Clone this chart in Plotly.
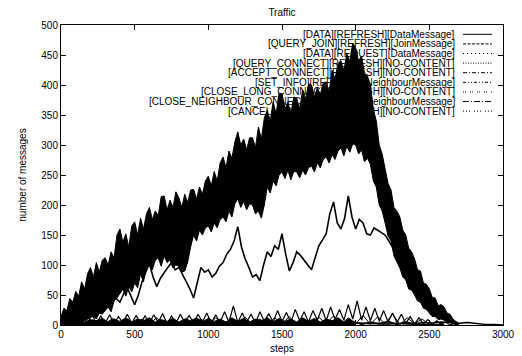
import plotly.graph_objects as go

# ---------------- data ----------------
series_names = [
    "[DATA][REFRESH][DataMessage]",
    "[QUERY_JOIN][REFRESH][JoinMessage]",
    "[DATA][REQUEST][DataMessage]",
    "[QUERY_CONNECT][REFRESH][NO-CONTENT]",
    "[ACCEPT_CONNECT][REFRESH][NO-CONTENT]",
    "[SET_INFO][REFRESH][NeighbourMessage]",
    "[CLOSE_LONG_CONNECT][REFRESH][NO-CONTENT]",
    "[CLOSE_NEIGHBOUR_CONNECT][REFRESH][NeighbourMessage]",
    "[CANCEL_CONNECT][REFRESH][NO-CONTENT]",
]

# DATA REFRESH oscillates so fast that it reads as a band:
# lower / upper edge of the band, every 20 steps (0..2700)
data_refresh_steps = list(range(0, 2701, 20))
data_refresh_low = [
    0, 1, 2, 3, 4, 5, 6, 4, 8, 10,
    12, 15, 10, 20, 18, 25, 30, 22, 40, 45,
    52, 60, 48, 64, 55, 70, 62, 85, 72, 96,
    100, 92, 108, 112, 98, 115, 104, 108, 95, 100,
    98, 88, 90, 105, 130, 150, 140, 158, 150, 162,
    165, 155, 170, 162, 176, 180, 172, 190, 180, 202,
    210, 196, 206, 192, 202, 200, 185, 190, 178, 200,
    230, 220, 240, 232, 250, 255, 244, 258, 242, 256,
    255, 245, 258, 250, 262, 265, 255, 270, 262, 276,
    280, 270, 284, 276, 290, 295, 282, 298, 288, 302,
    300, 285, 292, 272, 278, 268, 240, 230, 200, 190,
    170, 148, 140, 115, 105, 95, 80, 75, 60, 58,
    50, 40, 38, 28, 26, 20, 14, 14, 9, 10,
    8, 5, 4, 2, 1, 0,
]
data_refresh_high = [
    14, 28, 24, 44, 38, 56, 48, 72, 60, 85,
    96, 80, 104, 88, 108, 112, 100, 122, 112, 150,
    160, 138, 152, 130, 165, 172, 150, 178, 160, 185,
    196, 176, 190, 182, 214, 215, 192, 208, 196, 222,
    212, 196, 218, 204, 225, 226, 210, 230, 218, 240,
    248, 232, 256, 240, 270, 280, 262, 290, 278, 305,
    322, 300, 310, 292, 312, 312, 296, 330, 310, 345,
    358, 340, 372, 352, 386, 386, 360, 372, 352, 380,
    378, 360, 392, 376, 402, 400, 380, 396, 384, 404,
    405, 388, 425, 410, 436, 440, 424, 452, 440, 470,
    462, 440, 448, 420, 415, 400, 360, 340, 300, 285,
    260, 236, 225, 196, 190, 180, 158, 150, 128, 122,
    110, 92, 90, 70, 68, 60, 46, 45, 32, 34,
    30, 20, 18, 10, 6, 3,
]

# steps 0..2700 every 25
query_join_steps = list(range(0, 2701, 25))
query_join = [
    2, 0, 6, 3, 12, 8, 16, 10, 22, 15,
    28, 20, 46, 38, 56, 44, 38, 52, 62, 48,
    34, 50, 72, 88, 102, 80, 64, 78, 88, 96,
    104, 92, 96, 84, 72, 60, 45, 70, 96, 88,
    92, 80, 86, 98, 104, 118, 126, 140, 164, 130,
    110, 96, 80, 84, 74, 100, 122, 114, 132, 126,
    152, 118, 90, 104, 122, 116, 108, 100, 92, 112,
    132, 142, 152, 186, 205, 170, 160, 178, 215, 180,
    160, 176, 170, 152, 150, 162, 158, 154, 150, 140,
    130, 115, 100, 90, 80, 70, 60, 52, 45, 38,
    30, 24, 18, 14, 10, 7, 4, 2, 0,
]

# steps 0..2700 every 30
data_request_steps = list(range(0, 2701, 30))
data_request = [
    0, 12, 2, 16, 1, 14, 3, 18, 2, 15,
    3, 17, 2, 14, 4, 18, 3, 16, 2, 15,
    3, 17, 4, 19, 2, 15, 3, 18, 4, 16,
    3, 18, 5, 20, 3, 17, 4, 22, 5, 32,
    4, 20, 5, 18, 3, 22, 6, 19, 5, 24,
    6, 21, 4, 26, 7, 22, 5, 24, 8, 28,
    7, 30, 9, 26, 8, 34, 10, 40, 8, 30,
    7, 28, 6, 24, 5, 20, 4, 18, 3, 14,
    2, 12, 2, 9, 1, 7, 1, 5, 0, 3,
    0,
]

# steps 0..2000 every 40
query_connect_steps = list(range(0, 2001, 40))
query_connect = [
    5, 10, 6, 12, 5, 9, 7, 11, 5, 10,
    6, 12, 5, 10, 7, 12, 5, 9, 6, 11,
    5, 10, 7, 12, 5, 11, 6, 10, 5, 12,
    6, 11, 5, 10, 7, 12, 5, 11, 6, 10,
    5, 12, 6, 11, 5, 10, 7, 12, 5, 11,
    0,
]

# steps 0..2600 every 50
accept_connect_steps = list(range(0, 2601, 50))
accept_connect = [
    0, 8, 1, 10, 0, 9, 2, 11, 1, 8,
    0, 10, 2, 12, 1, 9, 0, 11, 2, 10,
    1, 12, 0, 9, 2, 13, 1, 10, 0, 12,
    2, 14, 1, 11, 0, 13, 2, 15, 1, 12,
    2, 16, 1, 14, 2, 18, 1, 12, 2, 10,
    1, 6, 0,
]

# steps 0..3000 every 60
set_info_steps = list(range(0, 3001, 60))
set_info = [
    0, 3, 1, 4, 0, 3, 1, 4, 0, 3,
    1, 4, 0, 3, 1, 4, 0, 3, 1, 5,
    0, 4, 1, 3, 0, 4, 1, 5, 0, 4,
    1, 5, 2, 6, 1, 5, 2, 6, 1, 5,
    2, 4, 3, 5, 4, 3, 4, 2, 1, 1,
    0,
]

# steps 0..2600 every 100
small_steps = list(range(0, 2601, 100))
close_long = [0, 2, 1, 3, 0, 2, 1, 3, 2, 1, 3, 2, 1, 3, 2, 4, 1, 3, 2, 4, 3, 2, 4, 2, 1, 1, 0]
close_neighbour = [1, 0, 2, 1, 3, 1, 2, 0, 3, 1, 2, 1, 3, 2, 1, 3, 2, 4, 2, 3, 4, 3, 2, 3, 1, 0, 0]
cancel_connect = [0, 1, 0, 2, 1, 0, 2, 1, 0, 1, 2, 1, 0, 2, 1, 3, 1, 2, 3, 2, 3, 2, 1, 2, 1, 0, 0]

x_ticks = [0, 500, 1000, 1500, 2000, 2500, 3000]
y_ticks = [0, 50, 100, 150, 200, 250, 300, 350, 400, 450, 500]

# ---------------- styles ----------------
legend_dashes = [
    "solid",
    "3px,1.5px",
    "1px,3px",
    "1px,1.5px",
    "4px,2px,1px,2px",
    "3px,2px,1px,2px,1px,2px",
    "1px,1px,1px,4px",
    "6px,2px,1px,2px",
    "1px,2px,1px,2px,1px,4px",
]

FONT = "Liberation Sans, Arial, sans-serif"

fig = go.Figure()

# DATA REFRESH band (lower edge, then upper edge filled down to it)
fig.add_trace(go.Scatter(x=data_refresh_steps, y=data_refresh_low, mode="lines",
                         name=series_names[0] + " low", showlegend=False,
                         line=dict(color="black", width=1)))
fig.add_trace(go.Scatter(x=data_refresh_steps, y=data_refresh_high, mode="lines",
                         name=series_names[0], showlegend=False, fill="tonexty",
                         fillcolor="black", line=dict(color="black", width=1)))

fig.add_trace(go.Scatter(x=query_join_steps, y=query_join, mode="lines",
                         name=series_names[1], showlegend=False,
                         line=dict(color="black", width=1.6)))
fig.add_trace(go.Scatter(x=data_request_steps, y=data_request, mode="lines",
                         name=series_names[2], showlegend=False,
                         line=dict(color="black", width=1.2)))
fig.add_trace(go.Scatter(x=query_connect_steps, y=query_connect, mode="lines",
                         name=series_names[3], showlegend=False, fill="tozeroy",
                         fillcolor="black", line=dict(color="black", width=1)))
fig.add_trace(go.Scatter(x=accept_connect_steps, y=accept_connect, mode="lines",
                         name=series_names[4], showlegend=False,
                         line=dict(color="black", width=1)))
fig.add_trace(go.Scatter(x=set_info_steps, y=set_info, mode="lines",
                         name=series_names[5], showlegend=False,
                         line=dict(color="black", width=1.5)))
for nm, yv in zip(series_names[6:], [close_long, close_neighbour, cancel_connect]):
    fig.add_trace(go.Scatter(x=small_steps, y=yv, mode="lines", name=nm,
                             showlegend=False, line=dict(color="black", width=1)))

# page has an 8px body margin; target plot area in the window: x 61..503, y 25..325
OFF = 8
W, H = 522 - OFF, 356 - OFF
L, R, T, B = 61 - OFF, 19, 25 - OFF, 31
pw, ph = W - L - R, H - T - B

def py(ypix):  # window pixel -> paper
    return (H - B - (ypix - OFF)) / ph

def px(xpix):
    return (xpix - OFF - L) / pw

# gnuplot-style legend: right-aligned text, line sample on the right
for i, (name, d) in enumerate(zip(series_names, legend_dashes)):
    yy = py(34.3 + 9.6 * i)
    fig.add_annotation(x=px(457), y=yy, xref="paper", yref="paper",
                       text=name, showarrow=False, xanchor="right", yanchor="middle",
                       font=dict(family=FONT, size=10, color="black"))
    fig.add_shape(type="line", xref="paper", yref="paper",
                  x0=px(463), x1=px(492), y0=yy, y1=yy,
                  line=dict(color="black", width=1, dash=d))

# axis titles
fig.add_annotation(x=0.5, y=0, xref="paper", yref="paper", yshift=-23,
                   text="steps", showarrow=False, xanchor="center", yanchor="middle",
                   font=dict(family=FONT, size=10, color="black"))
fig.add_annotation(x=0, y=0.5, xref="paper", yref="paper", xshift=-(61 - 21.7),
                   text="number of messages", showarrow=False, textangle=-90,
                   xanchor="center", yanchor="middle",
                   font=dict(family=FONT, size=10, color="black"))

axis_common = dict(
    showgrid=False, zeroline=False, showline=True, mirror="allticks",
    linecolor="black", linewidth=1, ticks="inside", ticklen=5,
    tickcolor="black", tickwidth=1,
    tickfont=dict(family=FONT, size=10, color="black"),
)

fig.update_layout(
    width=W, height=H,
    margin=dict(l=L, r=R, t=T, b=B, autoexpand=False),
    paper_bgcolor="white", plot_bgcolor="white",
    title=dict(text="Traffic", x=px(282), xref="paper", xanchor="center",
               y=1 - (12.7 - OFF) / H, yanchor="middle",
               font=dict(family=FONT, size=10, color="black")),
    xaxis=dict(range=[0, 3000], tickvals=x_ticks, ticktext=[str(v) for v in x_ticks],
               automargin=False, **axis_common),
    yaxis=dict(range=[0, 500], tickvals=y_ticks, ticktext=[str(v) for v in y_ticks],
               automargin=False, **axis_common),
    showlegend=False,
)

fig.write_html("out.html")
